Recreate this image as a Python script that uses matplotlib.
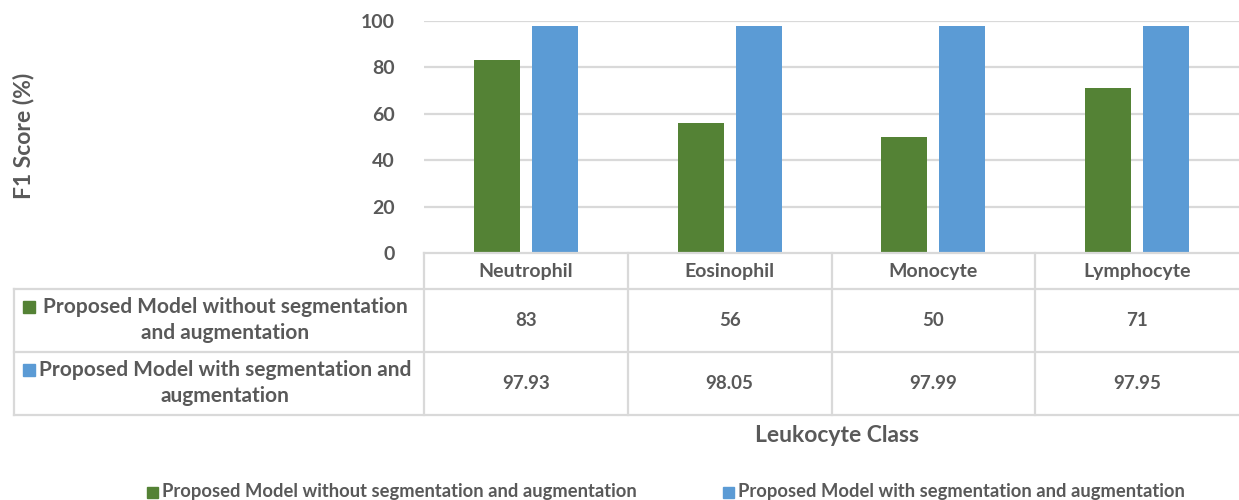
import matplotlib
matplotlib.use("Agg")
import matplotlib.pyplot as plt
from matplotlib.patches import Rectangle
from matplotlib.lines import Line2D

plt.rcParams['font.family'] = ['Lato', 'DejaVu Sans']

categories = ["Neutrophil", "Eosinophil", "Monocyte", "Lymphocyte"]
series_names = ["Proposed Model without segmentation and augmentation",
                "Proposed Model with segmentation and augmentation"]
row_labels = [["Proposed Model without segmentation", "and augmentation"],
              ["Proposed Model with segmentation and", "augmentation"]]
without_seg = [83, 56, 50, 71]
with_seg = [97.93, 98.05, 97.99, 97.95]
value_text = [["83", "56", "50", "71"],
              ["97.93", "98.05", "97.99", "97.95"]]
yticks = [0, 20, 40, 60, 80, 100]
colors = ["#548235", "#5b9bd5"]
text_col = "#595959"
grid_col = "#d9d9d9"

W, H = 1239, 500
fig = plt.figure(figsize=(W / 100, H / 100), dpi=100)

def fx(px):
    return px / W

def fy(py):
    return 1 - py / H

# bar area
x0, x1 = 424, 1239
y_top, y_zero = 21, 253
ax = fig.add_axes([fx(x0), fy(y_zero), fx(x1) - fx(x0), fy(y_top) - fy(y_zero)])
ax.set_xlim(-0.5, len(categories) - 0.5)
ax.set_ylim(0, 100)
for s in ax.spines.values():
    s.set_visible(False)
ax.set_xticks([])
ax.set_yticks(yticks)
ax.set_yticklabels([str(t) for t in yticks])
ax.tick_params(axis='y', length=0, pad=21, labelsize=14, labelcolor=text_col)
for lab in ax.get_yticklabels():
    lab.set_fontweight('bold')
for t in yticks[1:]:
    ax.axhline(t, color=grid_col, lw=1.6, zorder=0)

off = 0.142
bw = 0.226
xs = list(range(len(categories)))
ax.bar([x - off for x in xs], without_seg, width=bw, color=colors[0], zorder=2)
ax.bar([x + off for x in xs], with_seg, width=bw, color=colors[1], zorder=2)

# data table under the bars
tab = fig.add_axes([0, 0, 1, 1])
tab.set_xlim(0, W)
tab.set_ylim(H, 0)
tab.axis('off')

col_w = (x1 - x0) / len(categories)
row_y = [253, 289, 352, 415]
lw = 1.6
tab.add_line(Line2D([x0, x1], [row_y[0]] * 2, color=grid_col, lw=lw))
for yy in row_y[1:]:
    tab.add_line(Line2D([14, x1], [yy] * 2, color=grid_col, lw=lw))
tab.add_line(Line2D([14, 14], [row_y[1], row_y[3]], color=grid_col, lw=lw))
for i in range(len(categories)):
    xv = x0 + i * col_w
    tab.add_line(Line2D([xv, xv], [row_y[0], row_y[3]], color=grid_col, lw=lw))

for i, c in enumerate(categories):
    cx = x0 + (i + 0.5) * col_w
    tab.text(cx, 271, c, ha='center', va='center',
             fontsize=14, fontweight='bold', color=text_col)
    for r in range(2):
        tab.text(cx, (row_y[r + 1] + row_y[r + 2]) / 2, value_text[r][i],
                 ha='center', va='center', fontsize=13.5, fontweight='bold',
                 color=text_col)

for r in range(2):
    y_first = row_y[r + 1] + 18
    y_second = row_y[r + 1] + 44
    tab.text(225, y_first, row_labels[r][0], ha='center', va='center',
             fontsize=15, fontweight='bold', color=text_col)
    tab.text(225, y_second, row_labels[r][1], ha='center', va='center',
             fontsize=15, fontweight='bold', color=text_col)
    tab.add_patch(Rectangle((23, y_first - 6), 12, 12, color=colors[r]))

# axis titles
fig.text(fx(837), fy(435), "Leukocyte Class", ha='center', va='center',
         fontsize=16.5, fontweight='bold', color=text_col)
fig.text(fx(24), fy(136), "F1 Score (%)", ha='center', va='center',
         rotation=90, fontsize=16.5, fontweight='bold', color=text_col)

# legend
leg_x = [147, 723]
for k in range(2):
    tab.add_patch(Rectangle((leg_x[k], 487), 11, 11, color=colors[k]))
    tab.text(leg_x[k] + 15, 492, series_names[k], ha='left', va='center',
             fontsize=13.2, fontweight='bold', color=text_col)

fig.savefig("out.png", dpi=100)
